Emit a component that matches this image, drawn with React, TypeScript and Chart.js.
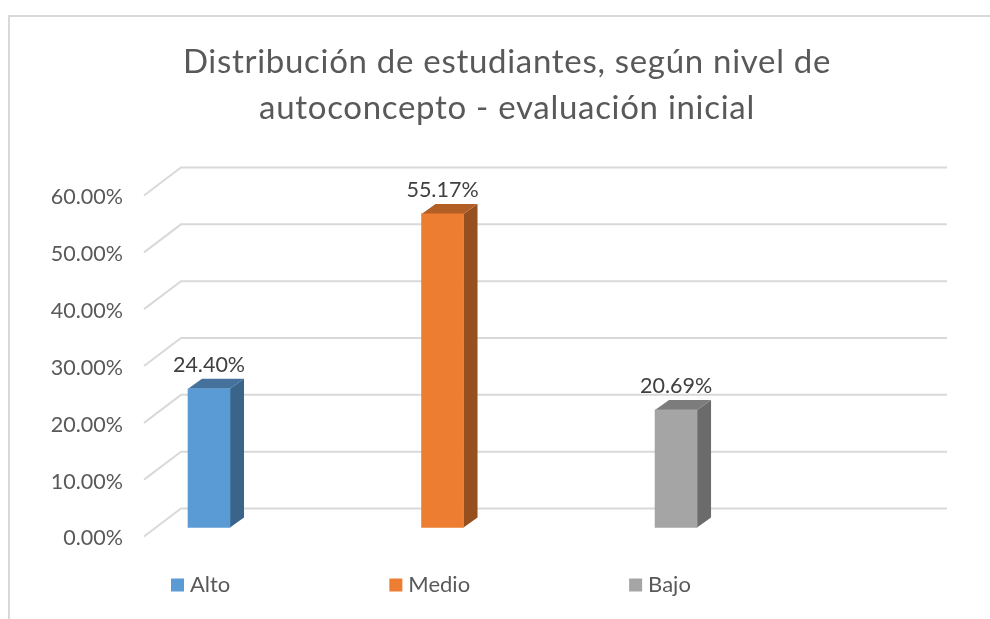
import React, { useEffect, useRef } from "react";
import { Chart, registerables } from "chart.js";

Chart.register(...registerables);

const titleLines = ["Distribución de estudiantes, según nivel de", "autoconcepto - evaluación inicial"];
const categories = ["Alto", "Medio", "Bajo"];
const slots = [0, 1, 2];
const values = [24.4, 55.17, 20.69];
const frontColors = ["#5B9BD5", "#ED7D31", "#A5A5A5"];
const topColors = ["#44729D", "#B25E25", "#7C7C7C"];
const sideColors = ["#3A6489", "#96501F", "#6B6B6B"];
const FONT = "Lato";

const fmt = (v: number) => v.toFixed(2) + "%";

const BAR_SHIFT = { x: 12, y: -9 };
const BAR_DEPTH = { x: 14, y: -10 };
const WALL = { x: 37, y: -28, right: 947 };

const scene = {
  id: "scene",
  beforeLayout(chart: any) {
    const lg = chart.legend;
    if (!lg.__fitWrapped) {
      const fit = lg.fit;
      lg.fit = function () {
        fit.call(this);
        this.height = 30;
      };
      lg.__fitWrapped = true;
    }
    const tb = chart.titleBlock;
    if (!tb.__drawWrapped) {
      const draw = tb.draw;
      tb.draw = function () {
        (chart.ctx as any).letterSpacing = "0.7px";
        draw.call(this);
        (chart.ctx as any).letterSpacing = "0px";
      };
      tb.__drawWrapped = true;
    }
  },
  afterLayout(chart: any) {
    const lg = chart.legend;
    lg.left = 12;
    lg.right = 990;
    lg.top = 410;
    lg.bottom = 619;
    chart.titleBlock.left = 24;
    chart.titleBlock.right = 990;
    const ys = chart.scales.y;
    if (!ys.__labelsWrapped) {
      const drawLabels = ys.drawLabels;
      ys.drawLabels = function (area: any) {
        chart.ctx.save();
        chart.ctx.translate(0, 2);
        drawLabels.call(this, area);
        chart.ctx.restore();
      };
      ys.__labelsWrapped = true;
    }
  },
  beforeDraw(chart: any) {
    const { ctx, scales } = chart;
    ctx.save();
    ctx.strokeStyle = "#D9D9D9";
    ctx.lineWidth = 2;
    ctx.beginPath();
    ctx.moveTo(9, 619);
    ctx.lineTo(9, 16);
    ctx.lineTo(990, 16);
    ctx.stroke();
    const y = scales.y;
    const left = chart.chartArea.left;
    ctx.lineWidth = 2;
    ctx.beginPath();
    for (const t of y.ticks) {
      const py = y.getPixelForValue(t.value);
      ctx.moveTo(left, py);
      ctx.lineTo(left + WALL.x, py + WALL.y);
      ctx.lineTo(WALL.right, py + WALL.y);
    }
    ctx.stroke();
    ctx.restore();
  },
  beforeDatasetDraw(chart: any, args: any) {
    const { ctx } = chart;
    ctx.save();
    ctx.translate(BAR_SHIFT.x, BAR_SHIFT.y);
    args.meta.data.forEach((bar: any, i: number) => {
      const { x, y, base, width } = bar.getProps(["x", "y", "base", "width"], true);
      const l = x - width / 2;
      const r = x + width / 2;
      ctx.fillStyle = sideColors[i];
      ctx.beginPath();
      ctx.moveTo(r, base);
      ctx.lineTo(r + BAR_DEPTH.x, base + BAR_DEPTH.y);
      ctx.lineTo(r + BAR_DEPTH.x, y + BAR_DEPTH.y);
      ctx.lineTo(r, y);
      ctx.closePath();
      ctx.fill();
      ctx.fillStyle = topColors[i];
      ctx.beginPath();
      ctx.moveTo(l, y);
      ctx.lineTo(l + BAR_DEPTH.x, y + BAR_DEPTH.y);
      ctx.lineTo(r + BAR_DEPTH.x, y + BAR_DEPTH.y);
      ctx.lineTo(r, y);
      ctx.closePath();
      ctx.fill();
    });
  },
  afterDatasetDraw(chart: any, args: any) {
    const { ctx } = chart;
    ctx.restore();
    ctx.save();
    ctx.fillStyle = "#404040";
    ctx.font = `21.5px ${FONT}`;
    ctx.textAlign = "center";
    ctx.textBaseline = "middle";
    args.meta.data.forEach((bar: any, i: number) => {
      const { x, y } = bar.getProps(["x", "y"], true);
      ctx.fillText(fmt(values[i]), x + BAR_SHIFT.x, y + BAR_SHIFT.y - 24);
    });
    ctx.restore();
  },
};

export default function App() {
  const ref = useRef<HTMLCanvasElement>(null);
  useEffect(() => {
    const chart = new Chart(ref.current!, {
      type: "bar",
      data: {
        datasets: [
          {
            data: slots.map((s, i) => ({ x: s, y: values[i] })),
            backgroundColor: frontColors,
            barThickness: 42,
            clip: false,
          } as any,
        ],
      },
      options: {
        animation: false,
        responsive: false,
        layout: { padding: { left: 0, right: 81, top: 0, bottom: 52.5 } },
        scales: {
          x: { type: "linear", display: false, offset: false, min: -0.227, max: 3.049, grid: { display: false } },
          y: {
            min: 0,
            max: 60,
            afterFit: (s: any) => {
              s.width = 144;
            },
            border: { display: false },
            grid: { display: false, drawTicks: false },
            ticks: {
              stepSize: 10,
              padding: 21,
              color: "#595959",
              font: { family: FONT, size: 21.5 },
              callback: (v: any) => fmt(Number(v)),
            },
          },
        },
        plugins: {
          tooltip: { enabled: false },
          title: {
            display: true,
            text: titleLines,
            color: "#595959",
            font: { family: FONT, size: 33, lineHeight: 46 / 33, weight: "normal" },
            padding: { top: 39, bottom: 64.5 },
          },
          legend: {
            display: true,
            position: "bottom",
            align: "start",
            labels: {
              padding: 164,
              boxWidth: 3,
              boxHeight: 3,
              color: "#595959",
              font: { family: FONT, size: 22 },
              generateLabels: () =>
                categories.map((c, i) => ({
                  text: c,
                  fillStyle: frontColors[i],
                  strokeStyle: frontColors[i],
                  lineWidth: 10,
                  fontColor: "#595959",
                  datasetIndex: 0,
                  index: i,
                })),
            },
          },
        },
      },
      plugins: [scene],
    } as any);
    return () => chart.destroy();
  }, []);
  return (
    <canvas
      ref={ref}
      width={990}
      height={619}
      style={{ position: "fixed", left: 0, top: 0, width: 990, height: 619, background: "#fff" }}
    />
  );
}
